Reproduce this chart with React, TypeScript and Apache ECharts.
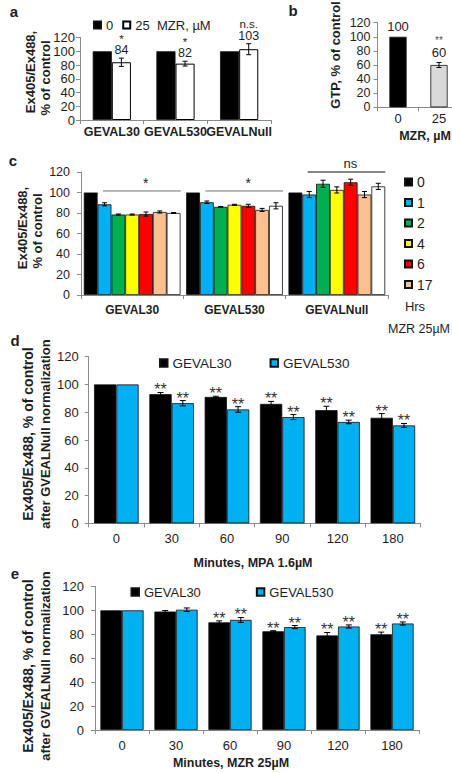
import React, { useEffect, useRef } from 'react';
import * as echarts from 'echarts';

const FONT = '"Liberation Sans", Arial, Helvetica, sans-serif';
const TEXT = '#1e1e1e';
const AXIS = '#8a8a8a';

// ---------- shared y ticks ----------
const yTicks = [0, 20, 40, 60, 80, 100, 120];

// ---------- Panel a ----------
const aCategories = ['GEVAL30', 'GEVAL530', 'GEVALNull'];
const aLegend = ['0', '25'];
const aMZR0 = [100, 100, 100];
const aMZR25 = [84, 82, 103];
const aMZR25Err = [6, 3.5, 8];
const aValueLabels = ['84', '82', '103'];
const aSigLabels = ['*', '*', 'n.s.'];

// ---------- Panel b ----------
const bCategories = ['0', '25'];
const bValues = [100, 60];
const bErr = [0, 3.5];
const bValueLabels = ['100', '60'];
const bSigLabels = ['', '**'];

// ---------- Panel c ----------
const cCategories = ['GEVAL30', 'GEVAL530', 'GEVALNull'];
const cHours = ['0', '1', '2', '4', '6', '17'];
const cH0 = [100, 100, 100];
const cH1 = [88.5, 90.5, 98];
const cH1Err = [1.5, 1.2, 3];
const cH2 = [78.5, 86, 108.5];
const cH2Err = [0.5, 0.3, 3.5];
const cH4 = [78.5, 88, 102.5];
const cH4Err = [0.5, 0.5, 3];
const cH6 = [79, 87, 110];
const cH6Err = [2, 1.5, 3];
const cH17 = [81, 83, 98];
const cH17Err = [1, 1.5, 3];
const cH7 = [80, 87, 106];
const cH7Err = [0.5, 3, 3];
const cBracketLevels = [101.5, 101.5, 120];
const cBracketLabels = ['*', '*', 'ns'];

// ---------- Panel d ----------
const dCategories = ['0', '30', '60', '90', '120', '180'];
const dLegend = ['GEVAL30', 'GEVAL530'];
const dGEVAL30 = [100, 93, 91, 86, 81.5, 76];
const dGEVAL30Err = [0, 1.2, 0.5, 1.8, 2.8, 3];
const dGEVAL530 = [100, 86.5, 82, 76.5, 73, 70.5];
const dGEVAL530Err = [0, 1.9, 2, 1.8, 1.3, 1.4];
const dSig30 = ['', '**', '**', '**', '**', '**'];
const dSig530 = ['', '**', '**', '**', '**', '**'];

// ---------- Panel e ----------
const eCategories = ['0', '30', '60', '90', '120', '180'];
const eGEVAL30 = [100, 99, 90, 82.5, 79, 80];
const eGEVAL30Err = [0, 0.8, 1.2, 0.5, 2.5, 1.8];
const eGEVAL530 = [100, 100.5, 92, 86, 86.5, 89];
const eGEVAL530Err = [0, 1.5, 2, 1.3, 1.3, 1.3];
const eSig30 = ['', '', '**', '**', '**', '**'];
const eSig530 = ['', '', '**', '**', '**', '**'];

// ---------- Titles ----------
const yTitleRatio = ['Ex405/Ex488,', '% of control'];
const yTitleNorm = ['Ex405/Ex488, % of control', 'after GVEALNull normalization'];
const yTitleGTP = 'GTP, % of control';
const bXTitle = 'MZR, \u00b5M';
const aLegendSuffix = 'MZR, \u00b5M';
const cLegendTitle = 'Hrs';
const cNote = 'MZR 25\u00b5M';
const dXTitle = 'Minutes, MPA 1.6\u00b5M';
const eXTitle = 'Minutes, MZR 25\u00b5M';

const cColors = ['#000000', '#00b0f0', '#00b050', '#ffff00', '#ff0000', '#fac090', '#ffffff'];
const bColors = ['#000000', '#d9d9d9'];
const BLUE = '#00b0f0';

// y tick-label style per grid: [fontSize, margin]
const yLabelStyle: [number, number][] = [[13, 5], [12.5, 7], [12.5, 11], [13, 10], [13, 11]];

function txt(x: number, y: number, text: string, size: number, bold = false, rotate = false, align = 'center', color = TEXT) {
  return {
    type: 'text', x, y, rotation: rotate ? Math.PI / 2 : 0, silent: true, z: 50,
    style: {
      text, fill: color, fontSize: size, fontWeight: bold ? 'bold' : 'normal', fontFamily: FONT,
      align, verticalAlign: 'middle', textAlign: align, textVerticalAlign: 'middle',
    },
  };
}

function yAxisCfg(grid: number) {
  return {
    type: 'value', gridIndex: grid, min: 0, max: 120, interval: 20,
    axisLine: { show: true, lineStyle: { color: AXIS, width: 1 } },
    axisTick: { show: true, length: 4, lineStyle: { color: AXIS } },
    splitLine: { show: false },
    // tick labels are placed from the axis scale after init (see App) so that none get auto-hidden
    axisLabel: { show: false },
  };
}

function xAxisCfg(grid: number, data: string[], fontSize: number, margin: number, bold: boolean) {
  return {
    type: 'category', gridIndex: grid, data,
    axisLine: { show: true, lineStyle: { color: AXIS, width: 1 } },
    axisTick: { show: true, length: 4, lineStyle: { color: AXIS } },
    splitLine: { show: false },
    axisLabel: { interval: 0, fontSize, fontWeight: bold ? 'bold' : 'normal', color: TEXT, fontFamily: FONT, margin, hideOverlap: false },
  };
}

type ErrOpts = {
  grid: number; values: number[]; errs: number[]; idx: number; n: number; gap: number; cap: number;
  valueLabels?: string[]; sigLabels?: string[]; valueOffset?: number; sigOffset?: number;
  valueFont?: number; sigFont?: number; sigColor?: string; valueLH?: number; sigLH?: number;
};

function errorSeries(o: ErrOpts) {
  return {
    type: 'custom', xAxisIndex: o.grid, yAxisIndex: o.grid, z: 5, clip: false, silent: true,
    data: o.values.map((v, i) => [i, v, o.errs[i]]),
    renderItem: (params: any, api: any) => {
      const i = params.dataIndex;
      const cat = api.value(0);
      const v = api.value(1);
      const e = api.value(2);
      const band = api.size([1, 0])[0];
      const barW = (band * (1 - o.gap)) / o.n;
      const base = api.coord([cat, v]);
      const x = base[0] + (o.idx - (o.n - 1) / 2) * barW;
      const yTop = api.coord([cat, v + e])[1];
      const yBot = api.coord([cat, v - e])[1];
      const children: any[] = [];
      const ls = { stroke: '#000', lineWidth: 1 };
      if (e > 0) {
        children.push({ type: 'line', shape: { x1: x, y1: yTop, x2: x, y2: yBot }, style: ls });
        children.push({ type: 'line', shape: { x1: x - o.cap / 2, y1: yTop, x2: x + o.cap / 2, y2: yTop }, style: ls });
        children.push({ type: 'line', shape: { x1: x - o.cap / 2, y1: yBot, x2: x + o.cap / 2, y2: yBot }, style: ls });
      }
      const val = o.valueLabels ? o.valueLabels[i] : '';
      const sig = o.sigLabels ? o.sigLabels[i] : '';
      if (val) {
        const vLH = o.valueLH || 12;
        const sLH = o.sigLH || 9;
        const text = sig ? `{s|${sig}}\n{v|${val}}` : `{v|${val}}`;
        children.push({
          type: 'text', x, y: yTop - (o.valueOffset || 8) + vLH / 2,
          style: {
            text, fill: TEXT, fontFamily: FONT, align: 'center', verticalAlign: 'bottom', textAlign: 'center', textVerticalAlign: 'bottom',
            rich: {
              s: { fontSize: o.sigFont || 12, lineHeight: sLH, fill: o.sigColor || TEXT, fontFamily: FONT, align: 'center' },
              v: { fontSize: o.valueFont || 13, lineHeight: vLH, fill: TEXT, fontFamily: FONT, align: 'center' },
            },
          },
        });
      } else if (sig) {
        const fs = o.sigFont || 14;
        const shift = sig.indexOf('*') >= 0 ? fs * 0.28 : 0;
        children.push({
          type: 'text', x, y: yTop - (o.sigOffset || 8) + shift,
          style: { text: sig, fill: o.sigColor || '#333', fontSize: fs, fontFamily: FONT, align: 'center', verticalAlign: 'middle', textAlign: 'center', textVerticalAlign: 'middle' },
        });
      }
      return { type: 'group', children };
    },
  };
}

function legendCfg(data: string[], left: number, top: number, orient: string, itemGap: number, fontSize: number, size: number) {
  return {
    data, left, top, orient, itemGap, padding: 0, icon: 'rect', itemWidth: size, itemHeight: size,
    selectedMode: false,
    textStyle: { fontSize, color: TEXT, fontFamily: FONT, lineHeight: 14 },
  };
}

function buildOption() {
  const barBorder = { borderColor: '#111', borderWidth: 0.8 };
  const series: any[] = [];

  // a
  series.push({ type: 'bar', name: '0', xAxisIndex: 0, yAxisIndex: 0, data: aMZR0, barGap: '0%', barCategoryGap: '40%', itemStyle: { color: '#000', ...barBorder } });
  series.push({ type: 'bar', name: '25', xAxisIndex: 0, yAxisIndex: 0, data: aMZR25, barGap: '0%', barCategoryGap: '40%', itemStyle: { color: '#fff', borderColor: '#000', borderWidth: 1 } });
  series.push(errorSeries({ grid: 0, values: aMZR25, errs: aMZR25Err, idx: 1, n: 2, gap: 0.4, cap: 5, valueLabels: aValueLabels, sigLabels: aSigLabels, valueOffset: 8, valueFont: 12.5, sigFont: 11.5, valueLH: 12, sigLH: 11 }));

  // b
  series.push({
    type: 'bar', name: 'GTP', xAxisIndex: 1, yAxisIndex: 1, barCategoryGap: '58%',
    data: bValues.map((v, i) => ({ value: v, itemStyle: { color: bColors[i] } })),
    itemStyle: { borderColor: '#111', borderWidth: 0.8 },
  });
  series.push(errorSeries({ grid: 1, values: bValues, errs: bErr, idx: 0, n: 1, gap: 0.58, cap: 5, valueLabels: bValueLabels, sigLabels: bSigLabels, valueOffset: 10.5, valueFont: 13, sigFont: 10, sigColor: '#555', valueLH: 13, sigLH: 10 }));

  // c
  const cVals = [cH0, cH1, cH2, cH4, cH6, cH17, cH7];
  const cErrs = [[0, 0, 0], cH1Err, cH2Err, cH4Err, cH6Err, cH17Err, cH7Err];
  const cNames = [...cHours, 'unlabelled'];
  cVals.forEach((vals, k) => {
    series.push({ type: 'bar', name: cNames[k], xAxisIndex: 2, yAxisIndex: 2, data: vals, barGap: '0%', barCategoryGap: '5.5%', itemStyle: { color: cColors[k], ...barBorder } });
  });
  cVals.forEach((vals, k) => {
    series.push(errorSeries({ grid: 2, values: vals, errs: cErrs[k], idx: k, n: 7, gap: 0.055, cap: 5 }));
  });
  series.push({
    type: 'custom', xAxisIndex: 2, yAxisIndex: 2, z: 6, clip: false, silent: true,
    data: cBracketLevels.map((v, i) => [i, v]),
    renderItem: (params: any, api: any) => {
      const i = params.dataIndex;
      const band = api.size([1, 0])[0];
      const p = api.coord([api.value(0), api.value(1)]);
      const lab = cBracketLabels[i];
      const star = lab.indexOf('*') >= 0;
      return {
        type: 'group',
        children: [
          { type: 'line', shape: { x1: p[0] - 0.285 * band, y1: p[1], x2: p[0] + 0.474 * band, y2: p[1] }, style: { stroke: star ? '#6e6e6e' : '#111', lineWidth: 1 } },
          { type: 'text', x: p[0] + 0.133 * band, y: p[1] - (star ? 8 : 9), style: { text: lab, fill: TEXT, fontSize: star ? 14 : 13, fontFamily: FONT, align: 'center', verticalAlign: 'middle', textAlign: 'center', textVerticalAlign: 'middle' } },
        ],
      };
    },
  });

  // d
  series.push({ type: 'bar', name: dLegend[0], xAxisIndex: 3, yAxisIndex: 3, data: dGEVAL30, barGap: '0%', barCategoryGap: '19.4%', itemStyle: { color: '#000', ...barBorder } });
  series.push({ type: 'bar', name: dLegend[1], xAxisIndex: 3, yAxisIndex: 3, data: dGEVAL530, barGap: '0%', barCategoryGap: '19.4%', itemStyle: { color: BLUE, ...barBorder } });
  series.push(errorSeries({ grid: 3, values: dGEVAL30, errs: dGEVAL30Err, idx: 0, n: 2, gap: 0.194, cap: 6, sigLabels: dSig30, sigOffset: 7, sigFont: 16 }));
  series.push(errorSeries({ grid: 3, values: dGEVAL530, errs: dGEVAL530Err, idx: 1, n: 2, gap: 0.194, cap: 6, sigLabels: dSig530, sigOffset: 7, sigFont: 16 }));

  // e
  series.push({ type: 'bar', name: dLegend[0], xAxisIndex: 4, yAxisIndex: 4, data: eGEVAL30, barGap: '0%', barCategoryGap: '20%', itemStyle: { color: '#000', ...barBorder } });
  series.push({ type: 'bar', name: dLegend[1], xAxisIndex: 4, yAxisIndex: 4, data: eGEVAL530, barGap: '0%', barCategoryGap: '20%', itemStyle: { color: BLUE, ...barBorder } });
  series.push(errorSeries({ grid: 4, values: eGEVAL30, errs: eGEVAL30Err, idx: 0, n: 2, gap: 0.2, cap: 6, sigLabels: eSig30, sigOffset: 7, sigFont: 16 }));
  series.push(errorSeries({ grid: 4, values: eGEVAL530, errs: eGEVAL530Err, idx: 1, n: 2, gap: 0.2, cap: 6, sigLabels: eSig530, sigOffset: 7, sigFont: 16 }));

  const gridBase = { containLabel: false, outerBoundsMode: 'none' };

  return {
    animation: false,
    backgroundColor: '#ffffff',
    textStyle: { fontFamily: FONT },
    grid: [
      { ...gridBase, left: 80, top: 37.5, width: 191, height: 82.5 },
      { ...gridBase, left: 377.5, top: 22.7, width: 82, height: 84.6 },
      { ...gridBase, left: 81, top: 172, width: 307, height: 123 },
      { ...gridBase, left: 88.7, top: 356.7, width: 331.8, height: 166.6 },
      { ...gridBase, left: 95, top: 586.4, width: 324, height: 143.6 },
    ],
    xAxis: [
      xAxisCfg(0, aCategories, 12.5, 5.5, true),
      xAxisCfg(1, bCategories, 13, 4.5, false),
      xAxisCfg(2, cCategories, 12, 9, true),
      xAxisCfg(3, dCategories, 13, 8.5, false),
      xAxisCfg(4, eCategories, 13, 8.5, false),
    ],
    yAxis: [yAxisCfg(0), yAxisCfg(1), yAxisCfg(2), yAxisCfg(3), yAxisCfg(4)],
    legend: [
      legendCfg(aLegend, 93, 18, 'horizontal', 9, 13, 7),
      legendCfg(cHours, 404, 175, 'vertical', 6.5, 14, 7),
      legendCfg(dLegend, 159, 356, 'horizontal', 38, 13.5, 7.5),
      legendCfg(dLegend, 130.5, 585, 'horizontal', 55, 13, 7.5),
    ],
    graphic: [
      txt(14, 11, 'a', 15, true),
      txt(293, 10, 'b', 15, true),
      txt(13, 160, 'c', 15, true),
      txt(15, 340, 'd', 15, true),
      txt(15, 573, 'e', 15, true),
      txt(157, 25, aLegendSuffix, 13, false, false, 'left'),
      txt(30, 72, yTitleRatio[0], 13, true, true),
      txt(45, 78, yTitleRatio[1], 13, true, true),
      txt(335, 55, yTitleGTP, 13, true, true),
      txt(425, 136, bXTitle, 12.5, true),
      txt(22, 228, yTitleRatio[0], 13, true, true),
      txt(37, 231, yTitleRatio[1], 13, true, true),
      txt(415, 306, cLegendTitle, 13),
      txt(419, 329, cNote, 12.5),
      txt(28, 434, yTitleNorm[0], 14, true, true),
      txt(45, 434, yTitleNorm[1], 13, true, true),
      txt(253, 563, dXTitle, 12.5, true),
      txt(28, 666, yTitleNorm[0], 14, true, true),
      txt(45, 666, yTitleNorm[1], 13, true, true),
      txt(231, 763, eXTitle, 12.5, true),
    ],
    series,
  };
}

export default function App() {
  const ref = useRef<HTMLDivElement>(null);
  useEffect(() => {
    if (!ref.current) return;
    const chart = echarts.init(ref.current, null, { renderer: 'svg' });
    const option: any = buildOption();
    chart.setOption(option);
    // y tick labels positioned through each grid's own axis scales
    const tickLabels: any[] = [];
    yLabelStyle.forEach(([fontSize, margin], g) => {
      const c0 = chart.convertToPixel({ xAxisIndex: g } as any, 0) as unknown as number;
      const c1 = chart.convertToPixel({ xAxisIndex: g } as any, 1) as unknown as number;
      const axisX = c0 - (c1 - c0) / 2;
      yTicks.forEach((v) => {
        const y = chart.convertToPixel({ yAxisIndex: g } as any, v) as unknown as number;
        tickLabels.push(txt(axisX - margin, y, String(v), fontSize, false, false, 'right'));
      });
    });
    chart.setOption({ graphic: [...option.graphic, ...tickLabels] });
    return () => chart.dispose();
  }, []);
  return (
    <div
      ref={ref}
      style={{ position: 'fixed', left: 0, top: 0, width: 452, height: 773, background: '#fff' }}
    />
  );
}
